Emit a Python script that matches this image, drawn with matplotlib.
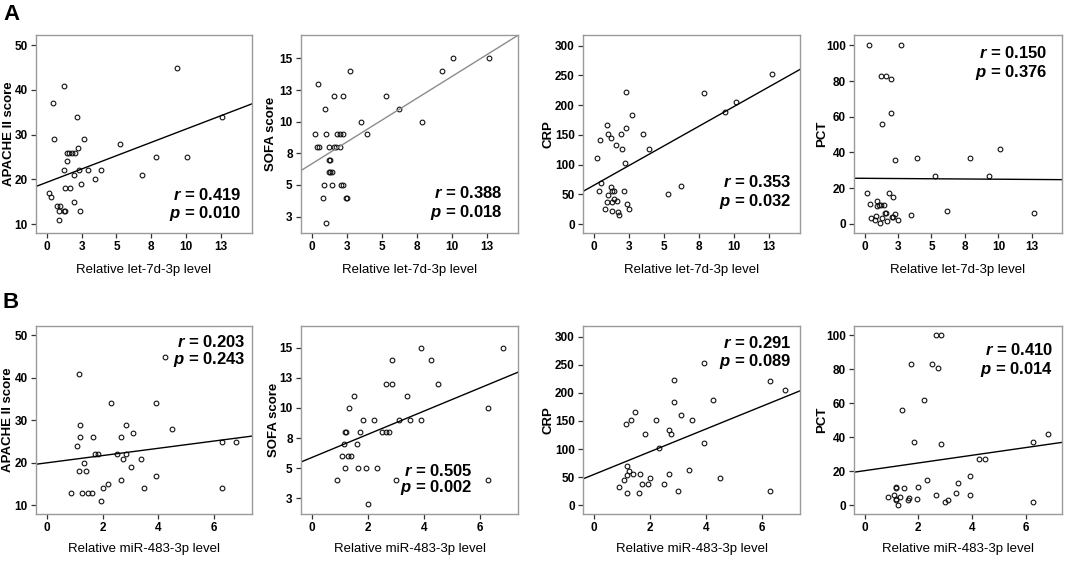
import numpy as np
import matplotlib
matplotlib.use('Agg')
import matplotlib.pyplot as plt

plt.rcParams['font.family'] = ['Liberation Sans', 'DejaVu Sans']
plt.rcParams['mathtext.fontset'] = 'custom'
plt.rcParams['mathtext.bfit'] = 'Liberation Sans:italic:bold'
plt.rcParams['mathtext.it'] = 'Liberation Sans:italic'
plt.rcParams['mathtext.rm'] = 'Liberation Sans'

# ---- A: let-7d-3p ----
a_apache_x = [9.33, 1.2, 0.4, 2.15, 12.6, 0.48, 2.68, 5.26, 2.22, 1.45, 1.55, 1.8, 2.05,
              7.85, 10.1, 1.41, 1.24, 2.3, 2.94, 3.9, 1.96, 6.87, 3.49, 2.46, 1.32, 1.67,
              0.17, 0.31, 1.96, 0.72, 0.96, 0.9, 1.2, 1.27, 2.34, 0.89]
a_apache_y = [45, 41, 37, 34, 34, 29, 29, 28, 27, 26, 26, 26, 26,
              25, 25, 24, 22, 22, 22, 22, 21, 21, 20, 19, 18, 18,
              17, 16, 15, 14, 14, 13, 13, 13, 13, 11]

a_sofa_x = [12.7, 10.1, 9.3, 2.7, 0.43, 1.55, 2.25, 5.3, 0.91, 6.2, 3.49, 7.87,
            0.19, 1.0, 1.82, 1.99, 2.25, 3.92, 0.33, 0.53, 1.24, 1.6, 1.7, 2.0,
            1.2, 1.3, 1.2, 1.3, 1.4, 0.88, 1.45, 2.1, 2.2, 0.77, 2.4, 2.5, 1.0]
a_sofa_y = [15, 15, 14, 14, 13, 12, 12, 12, 11, 11, 10, 10,
            9, 9, 9, 9, 9, 9, 8, 8, 8, 8, 8, 8,
            7, 7, 6, 6, 6, 5, 5, 5, 5, 4, 4, 4, 2]

a_crp_x = [12.74, 7.88, 2.26, 10.19, 9.38, 2.71, 0.93, 2.26, 1.0, 1.95, 3.52, 0.43,
           1.24, 1.55, 1.98, 3.93, 0.19, 2.19, 0.5, 1.19, 2.12, 0.33, 1.31, 1.45,
           1.02, 5.31, 6.21, 1.43, 0.93, 1.26, 1.62, 2.36, 0.76, 1.31, 2.5, 1.71, 1.81]
a_crp_y = [253, 221, 222, 205, 188, 184, 166, 162, 151, 151, 151, 142,
           144, 133, 127, 126, 111, 102, 69, 62, 55, 55, 55, 55,
           49, 50, 64, 43, 37, 37, 38, 33, 26, 22, 26, 21, 15]

a_pct_x = [0.33, 2.7, 1.23, 1.6, 1.95, 1.95, 1.28, 2.25, 3.9, 7.85, 10.1, 5.25, 9.3,
           0.18, 1.8, 2.15, 0.4, 0.95, 0.9, 1.05, 1.25, 1.43, 1.5, 1.58, 2.3, 0.88,
           0.48, 0.75, 1.33, 2.05, 2.15, 1.7, 1.18, 2.48, 3.48, 6.18, 12.65]
a_pct_y = [100, 100, 83, 83, 81, 62, 56, 36, 37, 37, 42, 27, 27,
           17, 17, 15, 11, 13, 10, 10.5, 10.5, 10.7, 6, 6, 5.4, 4.5,
           3, 2.2, 3.2, 4, 3.5, 1.7, 0.5, 2.2, 5, 7.3, 6]

# ---- B: miR-483-3p ----
b_apache_x = [4.24, 1.14, 2.3, 3.9, 1.18, 2.84, 4.48, 3.1, 1.18, 1.64, 2.64, 6.28, 6.8,
              1.08, 1.71, 1.82, 2.5, 2.84, 2.73, 3.38, 1.31, 3.0, 1.15, 1.4, 3.9, 2.64,
              2.19, 1.99, 3.48, 6.27, 0.86, 1.26, 1.47, 1.6, 1.92]
b_apache_y = [45, 41, 34, 34, 29, 29, 28, 27, 26, 26, 26, 25, 25,
              24, 22, 22, 22, 22, 21, 21, 20, 19, 18, 18, 17, 16,
              15, 14, 14, 14, 13, 13, 13, 13, 11]

b_sofa_x = [6.84, 3.9, 2.86, 4.25, 2.64, 2.86, 4.5, 1.48, 3.39, 1.3, 6.3, 1.83, 2.21,
            3.1, 3.49, 3.9, 1.17, 1.2, 1.72, 2.5, 2.64, 2.76, 1.15, 1.6, 1.08, 1.27,
            1.4, 1.18, 1.65, 1.94, 2.32, 0.88, 3.0, 6.3, 2.0]
b_sofa_y = [15, 15, 14, 14, 12, 12, 12, 11, 11, 10, 10, 9, 9,
            9, 9, 9, 8, 8, 8, 8, 8, 8, 7, 7, 6, 6,
            6, 5, 5, 5, 5, 4, 4, 4, 2]

b_crp_x = [3.91, 2.85, 6.3, 6.84, 4.25, 2.85, 1.47, 3.11, 1.3, 2.2, 3.48, 1.15, 2.66,
           2.75, 1.82, 3.91, 2.31, 1.16, 1.26, 1.16, 1.39, 1.64, 2.66, 3.39, 4.5, 2.0,
           1.08, 1.71, 1.93, 2.51, 0.87, 3.0, 6.3, 1.16, 1.6]
b_crp_y = [253, 222, 221, 205, 188, 183, 166, 161, 151, 151, 151, 144, 133,
           127, 126, 111, 101, 69, 61, 54, 55, 55, 55, 63, 49, 48,
           44, 37, 37, 37, 33, 26, 26, 21, 22]

b_pct_x = [2.65, 2.84, 1.71, 2.5, 2.75, 2.2, 1.38, 1.83, 2.85, 6.29, 6.83, 4.25, 4.49,
           3.91, 2.31, 3.48, 1.15, 1.18, 1.48, 1.99, 1.08, 0.88, 1.31, 2.65, 3.4, 3.91,
           1.15, 1.16, 1.61, 1.66, 1.94, 1.26, 3.01, 3.11, 6.29]
b_pct_y = [100, 100, 83, 83, 81, 62, 56, 37, 36, 37, 42, 27, 27,
           17, 15, 13, 11, 10, 10, 11, 6, 5, 5, 6, 7, 6,
           4, 3, 3.4, 4.3, 4, 0, 2, 3, 2]

# fitted lines: intercept, slope
fit_a = [(19.35, 1.19), (6.68, 0.688), (65.4, 13.2), (25.46, -0.051)]
fit_b = [(20.04, 0.853), (5.9, 0.96), (54.9, 20.2), (20.4, 2.26)]

r_a = ['0.419', '0.388', '0.353', '0.150']
p_a = ['0.010', '0.018', '0.032', '0.376']
r_b = ['0.203', '0.505', '0.291', '0.410']
p_b = ['0.243', '0.002', '0.089', '0.014']

ylabels = ['APACHE II score', 'SOFA score', 'CRP', 'PCT']
xlabel_a = 'Relative let-7d-3p level'
xlabel_b = 'Relative miR-483-3p level'

xticks_a = [0, 2.5, 5, 7.5, 10, 12.5]
xticklabels_a = ['0', '3', '5', '8', '10', '13']
xticks_b = [0, 2, 4, 6]
sofa_ticks = [2.5, 5, 7.5, 10, 12.5, 15]
sofa_labels = ['3', '5', '8', '10', '13', '15']
apache_ticks = [10, 20, 30, 40, 50]
crp_ticks = [0, 50, 100, 150, 200, 250, 300]
pct_ticks = [0, 20, 40, 60, 80, 100]

W, H = 1065, 562
fig = plt.figure(figsize=(W / 100, H / 100), dpi=100)

cols = [(36, 252), (301, 518), (583, 800), (854, 1062)]
rows = [(35, 233), (326, 514)]


def make_ax(col, row):
    l, r = cols[col]
    t, b = rows[row]
    return fig.add_axes([l / W, 1 - b / H, (r - l) / W, (b - t) / H])


def style(ax):
    for s in ax.spines.values():
        s.set_color('#9a9a9a')
        s.set_linewidth(1.0)
    ax.tick_params(direction='out', length=3.5, width=0.9, color='#333333',
                   labelsize=8.5, pad=2.5)
    for lab in ax.get_xticklabels() + ax.get_yticklabels():
        lab.set_fontweight('bold')


xs_a = [a_apache_x, a_sofa_x, a_crp_x, a_pct_x]
ys_a = [a_apache_y, a_sofa_y, a_crp_y, a_pct_y]
xs_b = [b_apache_x, b_sofa_x, b_crp_x, b_pct_x]
ys_b = [b_apache_y, b_sofa_y, b_crp_y, b_pct_y]

ylims_a = [(8.0, 52.3), (1.2, 16.85), (-15, 318), (-5.2, 105.8)]
ylims_b = [(8.0, 52.2), (1.2, 16.8), (-15.7, 319), (-5.1, 105.5)]
yticks = [apache_ticks, sofa_ticks, crp_ticks, pct_ticks]
ylab_x = [[-0.097, -0.11, -0.13, -0.125], [-0.10, -0.097, -0.13, -0.125]]

# annotation positions (axes coords: right x, y of r, y of p)
ann_a = [(0.95, 0.19, 0.10), (0.93, 0.20, 0.105), (0.96, 0.26, 0.16), (0.93, 0.91, 0.81)]
ann_b = [(0.97, 0.915, 0.82), (0.79, 0.23, 0.14), (0.96, 0.91, 0.81), (0.957, 0.87, 0.77)]

for row, (xs, ys, ylims, fits, rr, pp, anns, xlim, xticks, xtl, xlab) in enumerate([
        (xs_a, ys_a, ylims_a, fit_a, r_a, p_a, ann_a, (-0.79, 14.75), xticks_a, xticklabels_a, xlabel_a),
        (xs_b, ys_b, ylims_b, fit_b, r_b, p_b, ann_b, (-0.4, 7.36), xticks_b, None, xlabel_b)]):
    for i in range(4):
        ax = make_ax(i, row)
        ax.plot(xs[i], ys[i], 'o', ms=3.4, mfc='none', mec='#111111', mew=0.8)
        b0, b1 = fits[i]
        lx = np.array(xlim)
        color = '#8c8c8c' if (row == 0 and i == 1) else 'black'
        ax.plot(lx, b0 + b1 * lx, color=color, lw=1.0)
        ax.set_xlim(*xlim)
        ax.set_ylim(*ylims[i])
        ax.set_xticks(xticks)
        if xtl is not None:
            ax.set_xticklabels(xtl)
        ax.set_yticks(yticks[i])
        if i == 1:
            ax.set_yticklabels(sofa_labels)
        ax.set_ylabel(ylabels[i], fontsize=9.5, fontweight='bold')
        ax.yaxis.set_label_coords(ylab_x[row][i], 0.5)
        ax.set_xlabel(xlab, fontsize=9.5)
        ax.xaxis.set_label_coords(0.5, -0.155)
        style(ax)
        ax_r, y_r, y_p = anns[i]
        ax.text(ax_r, y_r, r'$\bfit{r}$ = ' + rr[i], transform=ax.transAxes,
                ha='right', va='center', fontsize=12, fontweight='bold')
        ax.text(ax_r, y_p, r'$\bfit{p}$ = ' + pp[i], transform=ax.transAxes,
                ha='right', va='center', fontsize=12, fontweight='bold')

fig.text(3 / W, 1 - 14 / H, 'A', fontsize=16, fontweight='bold', va='center', ha='left')
fig.text(2 / W, 1 - 302 / H, 'B', fontsize=16, fontweight='bold', va='center', ha='left')

fig.savefig('out.png', dpi=100)
